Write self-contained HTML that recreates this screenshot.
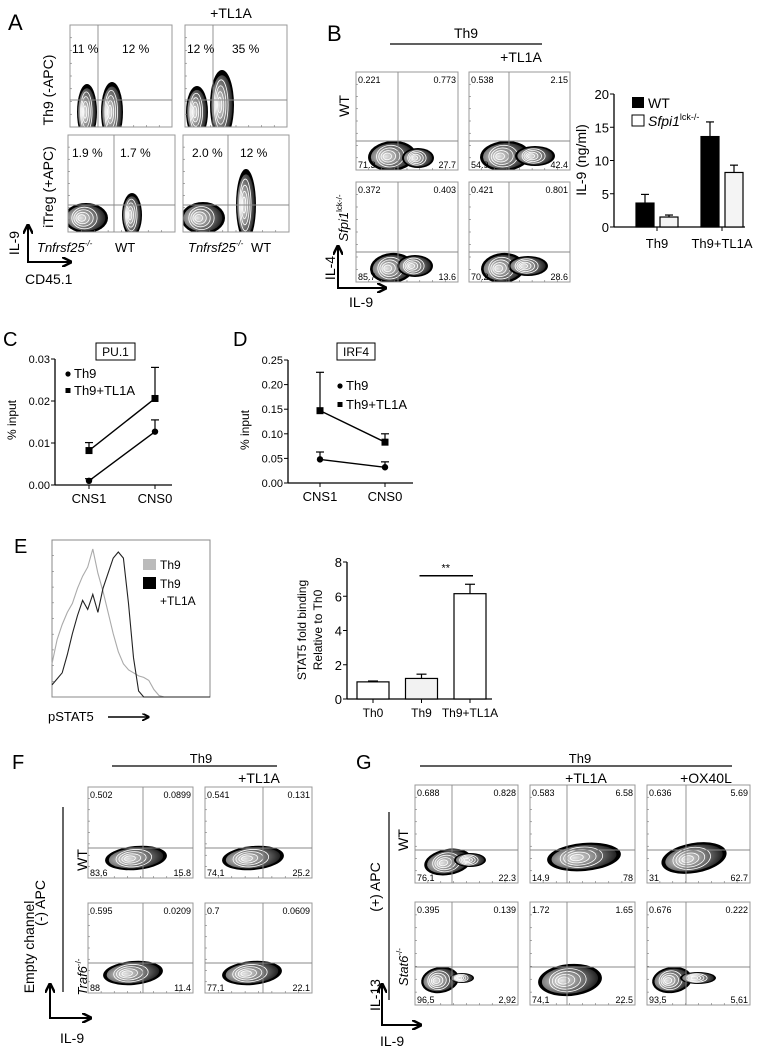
<!DOCTYPE html>
<html><head><meta charset="utf-8">
<style>
html,body{margin:0;padding:0;background:#fff;}
svg{display:block;font-family:"Liberation Sans",Arial,sans-serif;}
</style></head>
<body>
<svg id="fig" width="762" height="1050" viewBox="0 0 762 1050" xmlns="http://www.w3.org/2000/svg">
<defs>
<radialGradient id="blobGrad" cx="35%" cy="50%" r="70%">
<stop offset="0" stop-color="#e8e8e8"/><stop offset="0.45" stop-color="#888"/><stop offset="1" stop-color="#111"/>
</radialGradient>
<marker id="arr" viewBox="0 0 10 10" refX="8" refY="5" markerWidth="5" markerHeight="5" orient="auto"><path d="M0,0 L10,5 L0,10" fill="none" stroke="#000" stroke-width="2.5"/></marker>
</defs>
<g id="root"></g>

<!-- Panel A static labels -->
<text x="8" y="30" font-size="22">A</text>
<text x="231" y="18" font-size="14" text-anchor="middle">+TL1A</text>
<text transform="translate(53,90) rotate(-90)" font-size="14" text-anchor="middle">Th9 (-APC)</text>
<text transform="translate(53,187) rotate(-90)" font-size="14" text-anchor="middle">iTreg (+APC)</text>
<text transform="translate(19,243) rotate(-90)" font-size="14" text-anchor="middle">IL-9</text>
<line x1="28" y1="262" x2="28" y2="226" stroke="#000" stroke-width="2" marker-end="url(#arr)"/>
<line x1="27" y1="262" x2="70" y2="262" stroke="#000" stroke-width="2" marker-end="url(#arr)"/>
<text x="25" y="284" font-size="14">CD45.1</text>
<text x="37" y="252" font-size="13" font-style="italic">Tnfrsf25<tspan font-size="8" dy="-6">-/-</tspan></text>
<text x="115" y="252" font-size="13">WT</text>
<text x="188" y="252" font-size="13" font-style="italic">Tnfrsf25<tspan font-size="8" dy="-6">-/-</tspan></text>
<text x="251" y="252" font-size="13">WT</text>

<!-- Panel B static -->
<text x="327" y="41" font-size="22">B</text>
<text x="466" y="38" font-size="14" text-anchor="middle">Th9</text>
<line x1="390" y1="44" x2="542" y2="44" stroke="#000" stroke-width="1.2"/>
<text x="521" y="62" font-size="14" text-anchor="middle">+TL1A</text>
<text transform="translate(349,106) rotate(-90)" font-size="14" text-anchor="middle">WT</text>
<text transform="translate(348,218) rotate(-90)" font-size="13" text-anchor="middle" font-style="italic">Sfpi1<tspan font-size="8" font-style="normal" dy="-6">lck-/-</tspan></text>
<text transform="translate(335,268) rotate(-90)" font-size="14" text-anchor="middle">IL-4</text>
<line x1="338" y1="288" x2="338" y2="247" stroke="#000" stroke-width="2" marker-end="url(#arr)"/>
<line x1="337" y1="288" x2="385" y2="288" stroke="#000" stroke-width="2" marker-end="url(#arr)"/>
<text x="349" y="307" font-size="14">IL-9</text>

<!-- Panel C/D static -->
<text x="3" y="346" font-size="20">C</text>
<rect x="96" y="343" width="39" height="17" fill="none" stroke="#000" stroke-width="1"/>
<text x="115.5" y="356" font-size="12" text-anchor="middle">PU.1</text>
<text transform="translate(16,420) rotate(-90)" font-size="12" text-anchor="middle">% input</text>
<text x="233" y="346" font-size="20">D</text>
<rect x="337" y="343" width="38" height="17" fill="none" stroke="#000" stroke-width="1"/>
<text x="356" y="356" font-size="12" text-anchor="middle">IRF4</text>
<text transform="translate(249,430) rotate(-90)" font-size="12" text-anchor="middle">% input</text>

<!-- Panel E static -->
<text x="14" y="553" font-size="20">E</text>
<text x="48" y="721" font-size="13">pSTAT5</text>
<line x1="108" y1="717" x2="148" y2="717" stroke="#000" stroke-width="1.5" marker-end="url(#arr)"/>
<rect x="143" y="559" width="13" height="11" fill="#bbb"/>
<text x="160" y="569" font-size="12">Th9</text>
<rect x="143" y="577" width="13" height="12" fill="#000"/>
<text x="160" y="588" font-size="12">Th9</text>
<text x="160" y="605" font-size="12">+TL1A</text>
<text transform="translate(306,630) rotate(-90)" font-size="12" text-anchor="middle">STAT5 fold binding</text>
<text transform="translate(322,630) rotate(-90)" font-size="12" text-anchor="middle">Relative to Th0</text>

<!-- Panel F static -->
<text x="12" y="769" font-size="20">F</text>
<text x="201" y="763" font-size="13" text-anchor="middle">Th9</text>
<line x1="112" y1="766" x2="277" y2="766" stroke="#000" stroke-width="1.2"/>
<text x="259" y="783" font-size="14" text-anchor="middle">+TL1A</text>
<text transform="translate(87,860) rotate(-90)" font-size="14" text-anchor="middle">WT</text>
<text transform="translate(87,977) rotate(-90)" font-size="13" text-anchor="middle" font-style="italic">Traf6<tspan font-size="8" font-style="normal" dy="-6">-/-</tspan></text>
<line x1="63" y1="807" x2="63" y2="992" stroke="#000" stroke-width="1.2"/>
<text transform="translate(45,903) rotate(-90)" font-size="14" text-anchor="middle">(-) APC</text>
<text transform="translate(34,947) rotate(-90)" font-size="14" text-anchor="middle">Empty channel</text>
<line x1="50" y1="1018" x2="50" y2="985" stroke="#000" stroke-width="2" marker-end="url(#arr)"/>
<line x1="49" y1="1018" x2="90" y2="1018" stroke="#000" stroke-width="2" marker-end="url(#arr)"/>
<text x="60" y="1043" font-size="14">IL-9</text>

<!-- Panel G static -->
<text x="356" y="769" font-size="20">G</text>
<text x="580" y="763" font-size="13" text-anchor="middle">Th9</text>
<line x1="420" y1="766" x2="732" y2="766" stroke="#000" stroke-width="1.2"/>
<text x="586" y="783" font-size="14" text-anchor="middle">+TL1A</text>
<text x="706" y="783" font-size="14" text-anchor="middle">+OX40L</text>
<text transform="translate(408,840) rotate(-90)" font-size="14" text-anchor="middle">WT</text>
<text transform="translate(408,967) rotate(-90)" font-size="13" text-anchor="middle" font-style="italic">Stat6<tspan font-size="8" font-style="normal" dy="-6">-/-</tspan></text>
<line x1="389" y1="812" x2="389" y2="1000" stroke="#000" stroke-width="1.2"/>
<text transform="translate(380,887) rotate(-90)" font-size="14" text-anchor="middle">(+) APC</text>
<text transform="translate(380,995) rotate(-90)" font-size="14" text-anchor="middle">IL-13</text>
<line x1="382" y1="1025" x2="382" y2="985" stroke="#000" stroke-width="2" marker-end="url(#arr)"/>
<line x1="381" y1="1025" x2="420" y2="1025" stroke="#000" stroke-width="2" marker-end="url(#arr)"/>
<text x="380" y="1046" font-size="14">IL-9</text>
</svg>

<script>
// ---- Chart data ----
const bGroups = ["Th9", "Th9+TL1A"];
const bWT = [3.6, 13.6];
const bWTerr = [4.9, 15.8];
const bKO = [1.5, 8.2];
const bKOerr = [1.8, 9.3];
const bTicks = [0, 5, 10, 15, 20];

const cdCats = ["CNS1", "CNS0"];
const cTh9 = [0.001, 0.0127];
const cTh9err = [0.0015, 0.0155];
const cTL1A = [0.0082, 0.0206];
const cTL1Aerr = [0.0101, 0.028];
const cTicks = ["0.00", "0.01", "0.02", "0.03"];
const dTh9 = [0.048, 0.032];
const dTh9err = [0.063, 0.043];
const dTL1A = [0.147, 0.083];
const dTL1Aerr = [0.225, 0.1];
const dTicks = ["0.00", "0.05", "0.10", "0.15", "0.20", "0.25"];

const eCats = ["Th0", "Th9", "Th9+TL1A"];
const eVals = [1.0, 1.2, 6.15];
const eErr = [1.05, 1.45, 6.7];
const eTicks = [0, 2, 4, 6, 8];
const eHistGray = [22,38,48,56,62,72,80,86,98,82,70,56,42,30,22,18,16,14,13,11,5,1,0,0,0,0,0,0,0,0,0,0];
const eHistBlack = [8,12,16,28,42,54,64,58,68,56,72,82,92,96,92,62,26,4,0,0,0,0,0,0,0,0,0,0,0,0,0,0];

const NS = "http://www.w3.org/2000/svg";
const root = document.getElementById("root");
function mk(tag, attrs, parent) {
  const el = document.createElementNS(NS, tag);
  for (const k in attrs) el.setAttribute(k, attrs[k]);
  (parent || root).appendChild(el);
  return el;
}
function txt(x, y, s, size, anchor, parent) {
  const t = mk("text", {x: x, y: y, "font-size": size, "text-anchor": anchor || "start"}, parent);
  t.textContent = s;
  return t;
}

// ---- Flow cytometry plots ----
let clipId = 0;
function blob(g, cx, cy, rx, ry, rot) {
  const b = mk("g", {transform: "translate(" + cx + "," + cy + ") rotate(" + (rot || 0) + ")"}, g);
  
  
  mk("ellipse", {cx: 0, cy: 0, rx: rx, ry: ry, fill: "#000"}, b);
  mk("ellipse", {cx: 0, cy: 0, rx: rx * 0.88, ry: ry * 0.85, fill: "url(#blobGrad)"}, b);
  [0.72, 0.55, 0.38, 0.22].forEach(function (f, i) {
    mk("ellipse", {cx: -rx * 0.25 * (1 - f), cy: 0, rx: rx * f * 0.8, ry: ry * f, fill: "none", stroke: "#fff", "stroke-width": 0.8}, b);
  });
}
function flowPlot(name, x, y, w, h, qx, qy, labels, blobs, fs) {
  const g = mk("g", {});
  
  
  clipId++;
  const cp = mk("clipPath", {id: "cp" + clipId}, g);
  mk("rect", {x: x, y: y, width: w, height: h}, cp);
  const inner = mk("g", {"clip-path": "url(#cp" + clipId + ")"}, g);
  blobs.forEach(function (b) { blob(inner, b[0], b[1], b[2], b[3], b[4]); });
  mk("rect", {x: x, y: y, width: w, height: h, fill: "none", stroke: "#999", "stroke-width": 1}, g);
  if (qx) mk("line", {x1: qx, y1: y, x2: qx, y2: y + h, stroke: "#888", "stroke-width": 0.9}, g);
  if (qy) mk("line", {x1: x, y1: qy, x2: x + w, y2: qy, stroke: "#888", "stroke-width": 0.9}, g);
  for (let i = 1; i < 8; i++) {
    mk("line", {x1: x, y1: y + h * i / 8, x2: x + 2, y2: y + h * i / 8, stroke: "#777", "stroke-width": 0.6}, g);
    mk("line", {x1: x + w * i / 8, y1: y + h, x2: x + w * i / 8, y2: y + h - 2, stroke: "#777", "stroke-width": 0.6}, g);
  }
  const s = fs || 9;
  if (labels[0] !== null) { const t = txt(x + 2, y + s + 2, labels[0], s, "start", g);  }
  if (labels[1] !== null) { const t = txt(x + w - 2, y + s + 2, labels[1], s, "end", g);  }
  if (labels[2] !== null) { const t = txt(x + 2, y + h - 2, labels[2], s, "start", g);  }
  if (labels[3] !== null) { const t = txt(x + w - 2, y + h - 2, labels[3], s, "end", g);  }
  return g;
}
// Panel A
flowPlot("a-plot-th9", 70, 25, 102, 102, 98, 100, [null,null,null,null], [[87,112,10,28,0],[112,112,11,30,0]]);
flowPlot("a-plot-th9-tl1a", 185, 25, 102, 102, 213, 100, [null,null,null,null], [[197,112,11,26,0],[222,105,12,35,0]]);
flowPlot("a-plot-itreg", 68, 135, 107, 97, 114, 205, [null,null,null,null], [[86,218,22,15,0],[132,215,10,22,0]]);
flowPlot("a-plot-itreg-tl1a", 183, 135, 106, 97, 228, 205, [null,null,null,null], [[203,218,22,16,0],[246,205,10,36,0]]);
[["11 %",72,53],["12 %",122,53],["12 %",187,53],["35 %",232,53],["1.9 %",72,157],["1.7 %",120,157],["2.0 %",192,157],["12 %",240,157]].forEach(function (p) {
  const t = txt(p[1], p[2], p[0], 12, "start");
  
  
});
// Panel B flow
flowPlot("b-plot-wt", 356, 72, 102, 98, 398, 141, ["0.221","0.773","71.3","27.7"], [[392,156,24,15,-5],[418,158,16,10,0]]);
flowPlot("b-plot-wt-tl1a", 469, 72, 101, 98, 509, 141, ["0.538","2.15","54.9","42.4"], [[505,156,25,15,-4],[535,156,20,10,0]]);
flowPlot("b-plot-ko", 356, 182, 102, 100, 398, 252, ["0.372","0.403","85.7","13.6"], [[392,268,22,15,-5],[415,266,18,11,0]]);
flowPlot("b-plot-ko-tl1a", 469, 182, 101, 100, 509, 252, ["0.421","0.801","70.2","28.6"], [[503,268,22,15,-5],[528,266,20,10,0]]);
// Panel F
flowPlot("f-plot-wt", 88, 787, 105, 91, 143, 848, ["0.502","0.0899","83.6","15.8"], [[136,858,31,12,-5]]);
flowPlot("f-plot-wt-tl1a", 205, 787, 107, 91, 263, 848, ["0.541","0.131","74.1","25.2"], [[253,858,31,12,-5]]);
flowPlot("f-plot-traf6", 88, 903, 105, 90, 143, 963, ["0.595","0.0209","88","11.4"], [[133,973,30,12,-5]]);
flowPlot("f-plot-traf6-tl1a", 205, 903, 107, 90, 263, 963, ["0.7","0.0609","77.1","22.1"], [[252,973,30,12,-5]]);
// Panel G
flowPlot("g-plot-wt", 415, 785, 103, 98, 452, 850, ["0.688","0.828","76.1","22.3"], [[448,862,24,13,-10],[470,860,16,7,0]]);
flowPlot("g-plot-wt-tl1a", 530, 785, 105, 98, 567, 850, ["0.583","6.58","14.9","78"], [[584,857,37,14,-5]]);
flowPlot("g-plot-wt-ox40l", 647, 785, 103, 98, 686, 850, ["0.636","5.69","31","62.7"], [[694,858,33,15,-10]]);
flowPlot("g-plot-stat6", 415, 902, 103, 103, 452, 967, ["0.395","0.139","96.5","2.92"], [[440,980,19,13,-10],[462,978,12,5,0]]);
flowPlot("g-plot-stat6-tl1a", 530, 902, 105, 103, 567, 967, ["1.72","1.65","74.1","22.5"], [[570,980,32,16,-5]]);
flowPlot("g-plot-stat6-ox40l", 647, 902, 103, 103, 686, 967, ["0.676","0.222","93.5","5.61"], [[672,980,20,13,-8],[698,978,18,6,0]]);

// ---- Panel B bar chart ----
(function () {
  const x0 = 614, x1 = 745, y0 = 227, yTop = 94, vmax = 20;
  const ys = function (v) { return y0 - (v / vmax) * (y0 - yTop); };
  const g = mk("g", {});
  
  
  mk("line", {x1: x0, y1: yTop, x2: x0, y2: y0, stroke: "#000", "stroke-width": 1.3}, g);
  mk("line", {x1: x0, y1: y0, x2: x1, y2: y0, stroke: "#000", "stroke-width": 1.3}, g);
  bTicks.forEach(function (t) {
    mk("line", {x1: x0 - 4, y1: ys(t), x2: x0, y2: ys(t), stroke: "#000"}, g);
    const l = txt(x0 - 5, ys(t) + 5, String(t), 13, "end", g);
    
  });
  const gx = function (i) { return 657 + i * 65; };
  bGroups.forEach(function (c, i) {
    const cx = gx(i);
    mk("line", {x1: cx, y1: y0, x2: cx, y2: y0 + 4, stroke: "#000"}, g);
    const l = txt(cx, y0 + 21, c, 13, "middle", g);
    
    [[bWT, bWTerr, "#000", -12], [bKO, bKOerr, "#f4f4f4", 12]].forEach(function (s, j) {
      const bx = cx + s[3] - 9;
      const eb = mk("line", {x1: cx + s[3], y1: ys(s[0][i]), x2: cx + s[3], y2: ys(s[1][i]), stroke: "#000", "stroke-width": 1.2}, g);
      
      mk("line", {x1: cx + s[3] - 4, y1: ys(s[1][i]), x2: cx + s[3] + 4, y2: ys(s[1][i]), stroke: "#000", "stroke-width": 1.2}, g);
      const r = mk("rect", {x: bx, y: ys(s[0][i]), width: 18, height: y0 - ys(s[0][i]), fill: s[2], stroke: "#000", "stroke-width": 1.2}, g);
      
    });
  });
  mk("rect", {x: 632, y: 97, width: 12, height: 11, fill: "#000"}, g);
  const l1 = txt(648, 108, "WT", 14, "start", g);
  
  mk("rect", {x: 632, y: 115, width: 12, height: 11, fill: "#fff", stroke: "#000"}, g);
  const l2 = mk("text", {x: 648, y: 126, "font-size": 14, "font-style": "italic"}, g);
  
  l2.innerHTML = 'Sfpi1<tspan font-size="9" font-style="normal" dy="-6">lck-/-</tspan>';
  const yt = mk("text", {transform: "translate(586,160) rotate(-90)", "font-size": 14, "text-anchor": "middle"}, g);
  
  yt.textContent = "IL-9 (ng/ml)";
})();

// ---- Panels C & D line charts ----
function lineChart(name, ax, axEnd, y0, yTop, vmax, ticks, cx, th9, th9e, tl, tle, legX, legY) {
  const ys = function (v) { return y0 - (v / vmax) * (y0 - yTop); };
  const g = mk("g", {});
  
  
  mk("line", {x1: ax, y1: yTop, x2: ax, y2: y0, stroke: "#000", "stroke-width": 1.3}, g);
  mk("line", {x1: ax, y1: y0, x2: axEnd, y2: y0, stroke: "#000", "stroke-width": 1.3}, g);
  ticks.forEach(function (t) {
    const v = parseFloat(t);
    mk("line", {x1: ax - 4, y1: ys(v), x2: ax, y2: ys(v), stroke: "#000"}, g);
    const l = txt(ax - 5, ys(v) + 4, t, 11, "end", g);
    
  });
  cdCats.forEach(function (c, i) {
    mk("line", {x1: cx[i], y1: y0, x2: cx[i], y2: y0 + 4, stroke: "#000"}, g);
    const l = txt(cx[i], y0 + 18, c, 13, "middle", g);
    
  });
  [[th9, th9e, "circle"], [tl, tle, "square"]].forEach(function (s) {
    const ln = mk("line", {x1: cx[0], y1: ys(s[0][0]), x2: cx[1], y2: ys(s[0][1]), stroke: "#000", "stroke-width": 1.4}, g);
    
    for (let i = 0; i < 2; i++) {
      mk("line", {x1: cx[i], y1: ys(s[0][i]), x2: cx[i], y2: ys(s[1][i]), stroke: "#000", "stroke-width": 1.2}, g);
      mk("line", {x1: cx[i] - 4, y1: ys(s[1][i]), x2: cx[i] + 4, y2: ys(s[1][i]), stroke: "#000", "stroke-width": 1.2}, g);
      let m;
      if (s[2] === "circle") m = mk("circle", {cx: cx[i], cy: ys(s[0][i]), r: 3.2, fill: "#000"}, g);
      else m = mk("rect", {x: cx[i] - 3.5, y: ys(s[0][i]) - 3.5, width: 7, height: 7, fill: "#000"}, g);
      
    }
  });
  mk("circle", {cx: legX, cy: legY[0] - 4, r: 2.6, fill: "#000"}, g);
  const a = txt(legX + 6, legY[0], "Th9", 13, "start", g);
  
  mk("rect", {x: legX - 2.5, y: legY[1] - 7, width: 5, height: 5, fill: "#000"}, g);
  const b = txt(legX + 6, legY[1], "Th9+TL1A", 13, "start", g);
  
}
lineChart("c-line-chart", 55, 172, 485, 359, 0.03, cTicks, [89, 155], cTh9, cTh9err, cTL1A, cTL1Aerr, 68, [378, 395]);
lineChart("d-line-chart", 288, 413, 483, 360, 0.25, dTicks, [320, 385], dTh9, dTh9err, dTL1A, dTL1Aerr, 340, [390, 409]);

// ---- Panel E histogram ----
(function () {
  const hx0 = 52, hx1 = 210, hy0 = 697, hy1 = 540;
  const g = mk("g", {});
  
  
  mk("rect", {x: hx0, y: hy1, width: hx1 - hx0, height: hy0 - hy1, fill: "none", stroke: "#888", "stroke-width": 1}, g);
  for (let i = 1; i < 10; i++) {
    mk("line", {x1: hx0, y1: hy1 + (hy0 - hy1) * i / 10, x2: hx0 + 2, y2: hy1 + (hy0 - hy1) * i / 10, stroke: "#777", "stroke-width": 0.6}, g);
  }
  const xs = function (i, n) { return hx0 + (hx1 - hx0) * i / (n - 1); };
  const ysH = function (v) { return hy0 - (v / 100) * (hy0 - hy1 - 6); };
  [[eHistGray, "#aaa", "e-hist-th9"], [eHistBlack, "#222", "e-hist-th9-tl1a"]].forEach(function (s) {
    const pts = s[0].map(function (v, i) { return xs(i, s[0].length).toFixed(1) + "," + ysH(v).toFixed(1); }).join(" ");
    const p = mk("polyline", {points: pts, fill: "none", stroke: s[1], "stroke-width": 1.1}, g);
    
  });
})();

// ---- Panel E bar chart ----
(function () {
  const x0 = 347, x1 = 492, y0 = 699, yTop = 562, vmax = 8;
  const ys = function (v) { return y0 - (v / vmax) * (y0 - yTop); };
  const g = mk("g", {});
  
  
  mk("line", {x1: x0, y1: yTop, x2: x0, y2: y0, stroke: "#000", "stroke-width": 1.3}, g);
  mk("line", {x1: x0, y1: y0, x2: x1, y2: y0, stroke: "#000", "stroke-width": 1.3}, g);
  eTicks.forEach(function (t) {
    mk("line", {x1: x0 - 4, y1: ys(t), x2: x0, y2: ys(t), stroke: "#000"}, g);
    const l = txt(x0 - 5, ys(t) + 5, String(t), 13, "end", g);
    
  });
  const bx = function (i) { return 373 + i * 48.5; };
  eCats.forEach(function (c, i) {
    const cx = bx(i);
    mk("line", {x1: cx, y1: y0, x2: cx, y2: y0 + 4, stroke: "#000"}, g);
    const l = txt(cx, y0 + 18, c, 12, "middle", g);
    
    mk("line", {x1: cx, y1: ys(eVals[i]), x2: cx, y2: ys(eErr[i]), stroke: "#000", "stroke-width": 1.2}, g);
    mk("line", {x1: cx - 5, y1: ys(eErr[i]), x2: cx + 5, y2: ys(eErr[i]), stroke: "#000", "stroke-width": 1.2}, g);
    const r = mk("rect", {x: cx - 16, y: ys(eVals[i]), width: 32, height: y0 - ys(eVals[i]), fill: i === 1 ? "#f2f2f2" : "#fff", stroke: "#000", "stroke-width": 1.2}, g);
    
  });
  const sig = mk("line", {x1: bx(1) - 2, y1: ys(7.2), x2: bx(2) + 3, y2: ys(7.2), stroke: "#000", "stroke-width": 1.5}, g);
  
  const st = txt((bx(1) + bx(2)) / 2, ys(7.2) - 4, "**", 11, "middle", g);
  
})();
</script>
</body></html>
